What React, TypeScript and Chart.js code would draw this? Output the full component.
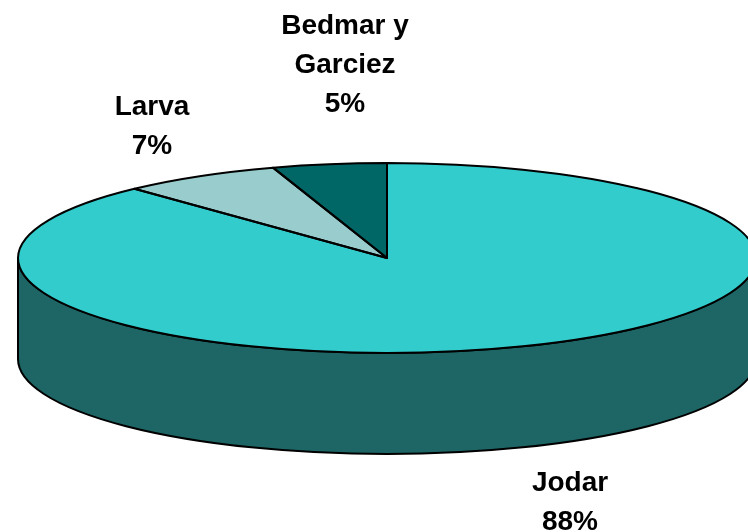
import React, { useEffect, useRef } from "react";
import { Chart, registerables } from "chart.js";

Chart.register(...registerables);

// ---- data ----
const categories = ["Jodar", "Larva", "Bedmar y Garciez"];
const values = [88, 7, 5];
const labelLines = [["Jodar"], ["Larva"], ["Bedmar y", "Garciez"]];

// ---- style / layout ----
const topColors = ["#33CCCC", "#99CCCC", "#006666"];
const sideColors = ["#1E6666", "#4D6666", "#003333"];
const labelAnchors = [
  { x: 570, y: 491 },
  { x: 152, y: 115 },
  { x: 345, y: 34 },
];
const LINE_H = 39;
const X0 = 387;
const Y0 = 258;
const RX = 369;
const RY = 95;
const DEPTH = 101;

const pie3d = {
  id: "pie3d",
  beforeDatasetsDraw(chart: any) {
    const ctx = chart.ctx as CanvasRenderingContext2D;
    const arcs = chart.getDatasetMeta(0).data;
    const p = arcs[0].getProps(["x", "y", "outerRadius"], true);
    // side walls (front half only: angles 0..PI)
    ctx.save();
    ctx.lineWidth = 2;
    ctx.strokeStyle = "#000";
    ctx.lineJoin = "round";
    arcs.forEach((arc: any, i: number) => {
      const a = arc.getProps(["startAngle", "endAngle"], true);
      for (let k = -1; k <= 1; k++) {
        const lo = Math.max(a.startAngle, k * 2 * Math.PI);
        const hi = Math.min(a.endAngle, k * 2 * Math.PI + Math.PI);
        if (hi > lo) {
          ctx.beginPath();
          ctx.ellipse(X0, Y0, RX, RY, 0, lo, hi);
          ctx.ellipse(X0, Y0 + DEPTH, RX, RY, 0, hi, lo, true);
          ctx.closePath();
          ctx.fillStyle = sideColors[i];
          ctx.fill();
          ctx.stroke();
        }
      }
    });
    ctx.restore();
    // transform the flat pie into the ellipse top
    ctx.save();
    ctx.translate(X0, Y0);
    ctx.scale(RX / p.outerRadius, RY / p.outerRadius);
    ctx.translate(-p.x, -p.y);
  },
  afterDatasetsDraw(chart: any) {
    const ctx = chart.ctx as CanvasRenderingContext2D;
    ctx.restore();
    const arcs = chart.getDatasetMeta(0).data;
    ctx.save();
    ctx.lineWidth = 2;
    ctx.strokeStyle = "#000";
    ctx.lineJoin = "round";
    arcs.forEach((arc: any) => {
      const a = arc.getProps(["startAngle", "endAngle"], true);
      ctx.beginPath();
      ctx.moveTo(X0, Y0);
      ctx.ellipse(X0, Y0, RX, RY, 0, a.startAngle, a.endAngle);
      ctx.closePath();
      ctx.stroke();
    });
    // labels
    const total = values.reduce((s, v) => s + v, 0);
    ctx.fillStyle = "#000";
    ctx.font = 'bold 28px "Liberation Sans", Arial, sans-serif';
    ctx.textAlign = "center";
    ctx.textBaseline = "alphabetic";
    values.forEach((v, i) => {
      const lines = [...labelLines[i], Math.round((v / total) * 100) + "%"];
      const an = labelAnchors[i];
      lines.forEach((t, j) => ctx.fillText(t, an.x, an.y + j * LINE_H));
    });
    ctx.restore();
  },
};

export default function App() {
  const ref = useRef<HTMLCanvasElement>(null);
  useEffect(() => {
    const chart = new Chart(ref.current as HTMLCanvasElement, {
      type: "pie",
      data: {
        labels: categories,
        datasets: [
          {
            data: values,
            backgroundColor: topColors,
            borderWidth: 0,
            clip: false as any,
          },
        ],
      },
      options: {
        responsive: false,
        animation: false,
        devicePixelRatio: 1,
        rotation: 0,
        plugins: {
          legend: { display: false },
          tooltip: { enabled: false },
        },
      },
      plugins: [pie3d],
    });
    return () => chart.destroy();
  }, []);
  return (
    <div style={{ position: "absolute", left: 0, top: 0, width: 748, height: 532, background: "#fff" }}>
      <canvas ref={ref} width={748} height={532} />
    </div>
  );
}
